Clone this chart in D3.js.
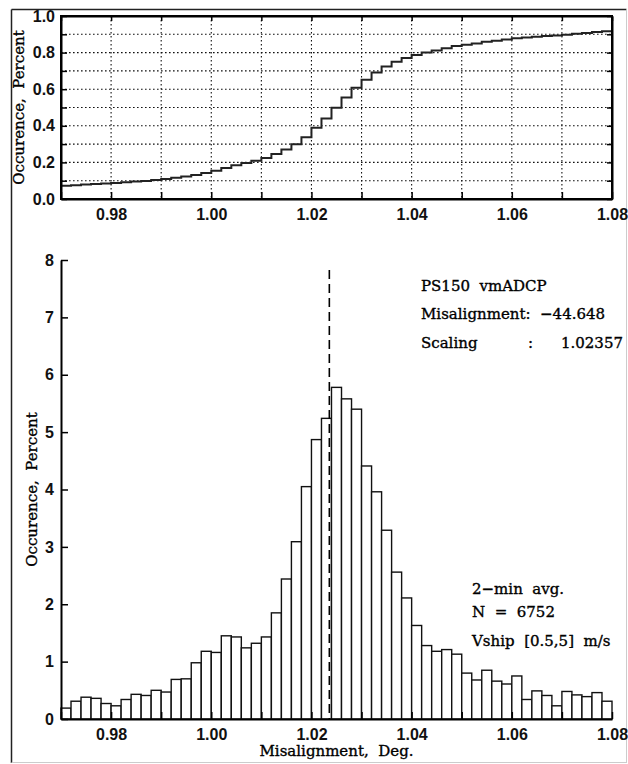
<!DOCTYPE html>
<html>
<head>
<meta charset="utf-8">
<script src="https://cdn.jsdelivr.net/npm/d3@7"></script>
<style>
  body { margin: 0; background: #fff; }
  svg text { white-space: pre; }
</style>
</head>
<body>
<script>
var width = 628;
var height = 764;

// histogram bins (left edges, deg) and occurrence (percent)
var binWidth = 0.002;
var binLeft = [0.970, 0.972, 0.974, 0.976, 0.978, 0.980, 0.982, 0.984, 0.986, 0.988,
               0.990, 0.992, 0.994, 0.996, 0.998, 1.000, 1.002, 1.004, 1.006, 1.008,
               1.010, 1.012, 1.014, 1.016, 1.018, 1.020, 1.022, 1.024, 1.026, 1.028,
               1.030, 1.032, 1.034, 1.036, 1.038, 1.040, 1.042, 1.044, 1.046, 1.048,
               1.050, 1.052, 1.054, 1.056, 1.058, 1.060, 1.062, 1.064, 1.066, 1.068,
               1.070, 1.072, 1.074, 1.076, 1.078];
var percent = [0.19, 0.31, 0.38, 0.36, 0.27, 0.23, 0.34, 0.43, 0.41, 0.50,
               0.47, 0.69, 0.70, 0.98, 1.18, 1.16, 1.45, 1.43, 1.24, 1.32,
               1.43, 1.85, 2.44, 3.09, 4.05, 4.87, 5.24, 5.78, 5.58, 5.40,
               4.41, 3.96, 3.29, 2.56, 2.11, 1.63, 1.28, 1.18, 1.21, 1.13,
               0.80, 0.68, 0.85, 0.66, 0.61, 0.75, 0.34, 0.49, 0.41, 0.23,
               0.48, 0.42, 0.39, 0.46, 0.31];
// cumulative occurrence (one step per bin)
var cumulative = [0.072, 0.075, 0.079, 0.082, 0.085, 0.087, 0.091, 0.095, 0.099, 0.104,
                  0.109, 0.116, 0.123, 0.131, 0.142, 0.155, 0.169, 0.184, 0.197, 0.209,
                  0.224, 0.246, 0.270, 0.299, 0.337, 0.389, 0.440, 0.498, 0.554, 0.608,
                  0.652, 0.691, 0.724, 0.750, 0.771, 0.787, 0.800, 0.812, 0.824, 0.836,
                  0.843, 0.850, 0.859, 0.865, 0.871, 0.879, 0.882, 0.887, 0.891, 0.894,
                  0.898, 0.903, 0.907, 0.912, 0.916];

var scaling = 1.02357;
var xLabelTicks = [0.98, 1.00, 1.02, 1.04, 1.06, 1.08];
var yTopLabelTicks = [0.0, 0.2, 0.4, 0.6, 0.8, 1.0];
var yBotTicks = [0, 1, 2, 3, 4, 5, 6, 7, 8];
var infoLines = ["PS150  vmADCP", "Misalignment:  \u221244.648"];
var statLines = ["2\u2212min  avg.", "N  =  6752", "Vship  [0.5,5]  m/s"];

var serif = "'DejaVu Serif', serif";
var sans = "'Liberation Sans', Arial, sans-serif";

var svg = d3.select("body").append("svg")
    .attr("width", width)
    .attr("height", height);

// outer frame
svg.append("line").attr("x1", 11.5).attr("y1", 9.5).attr("x2", 626.5).attr("y2", 9.5)
    .attr("stroke", "#222").attr("stroke-width", 1.5);
svg.append("line").attr("x1", 11.5).attr("y1", 9.5).attr("x2", 11.5).attr("y2", 763)
    .attr("stroke", "#222").attr("stroke-width", 1.5);
svg.append("line").attr("x1", 626.5).attr("y1", 9.5).attr("x2", 626.5).attr("y2", 763)
    .attr("stroke", "#ccc").attr("stroke-width", 1);
svg.append("line").attr("x1", 11.5).attr("y1", 762.5).attr("x2", 626.5).attr("y2", 762.5)
    .attr("stroke", "#ccc").attr("stroke-width", 1);

var x = d3.scaleLinear().domain([0.97, 1.08]).range([61, 612]);
var yTop = d3.scaleLinear().domain([0, 1]).range([199, 16]);
var yBot = d3.scaleLinear().domain([0, 8]).range([719, 260]);

var fmt2 = d3.format(".2f");
var fmt1 = d3.format(".1f");
function isLabel(list, v) {
    return list.some(function(t) { return Math.abs(t - v) < 1e-9; });
}

// ---------- upper panel: cumulative ----------
var topPanel = svg.append("g");

// dotted grid
topPanel.selectAll(".vgrid").data(x.ticks(11).slice(1, -1)).enter().append("line")
    .attr("x1", function(d) { return x(d); })
    .attr("x2", function(d) { return x(d); })
    .attr("y1", yTop(1)).attr("y2", yTop(0))
    .attr("stroke", "#111").attr("stroke-width", 1.1)
    .attr("stroke-dasharray", "1.6,2.4");
topPanel.selectAll(".hgrid").data(yTop.ticks(10).slice(1, -1)).enter().append("line")
    .attr("x1", x.range()[0]).attr("x2", x.range()[1])
    .attr("y1", function(d) { return yTop(d); })
    .attr("y2", function(d) { return yTop(d); })
    .attr("stroke", "#111").attr("stroke-width", 1.1)
    .attr("stroke-dasharray", "1.6,2.4");

// step curve
var stepPts = binLeft.map(function(b, i) { return [b, cumulative[i]]; });
stepPts.push([binLeft[binLeft.length - 1] + binWidth, cumulative[cumulative.length - 1]]);
var stepLine = d3.line()
    .x(function(d) { return x(d[0]); })
    .y(function(d) { return yTop(d[1]); })
    .curve(d3.curveStepAfter);
topPanel.append("path").datum(stepPts)
    .attr("d", stepLine)
    .attr("fill", "none")
    .attr("stroke", "#222")
    .attr("stroke-width", 2);

// axes
var topBottomAxis = d3.axisBottom(x).ticks(11).tickSizeInner(-7).tickSizeOuter(0).tickPadding(10)
    .tickFormat(function(d) { return isLabel(xLabelTicks, d) ? fmt2(d) : ""; });
var topTopAxis = d3.axisTop(x).ticks(11).tickSizeInner(-5).tickSizeOuter(0).tickFormat("");
var topLeftAxis = d3.axisLeft(yTop).ticks(10).tickSizeInner(-6).tickSizeOuter(0).tickPadding(6)
    .tickFormat(function(d) { return isLabel(yTopLabelTicks, d) ? fmt1(d) : ""; });
var topRightAxis = d3.axisRight(yTop).ticks(10).tickSizeInner(-5).tickSizeOuter(0).tickFormat("");

topPanel.append("g").attr("transform", "translate(0," + yTop(0) + ")").call(topBottomAxis);
topPanel.append("g").attr("transform", "translate(0," + yTop(1) + ")").call(topTopAxis);
topPanel.append("g").attr("transform", "translate(" + x.range()[0] + ",0)").call(topLeftAxis);
topPanel.append("g").attr("transform", "translate(" + x.range()[1] + ",0)").call(topRightAxis);

topPanel.append("rect")
    .attr("x", x.range()[0]).attr("y", yTop(1))
    .attr("width", x.range()[1] - x.range()[0])
    .attr("height", yTop(0) - yTop(1))
    .attr("fill", "none").attr("stroke", "#000").attr("stroke-width", 2);

topPanel.append("text")
    .attr("class", "serif")
    .attr("transform", "translate(24," + ((yTop(0) + yTop(1)) / 2) + ") rotate(-90)")
    .attr("text-anchor", "middle")
    .style("font-size", "15px")
    .text("Occurence,  Percent");

// ---------- lower panel: histogram ----------
var botPanel = svg.append("g");

botPanel.selectAll(".bar").data(percent).enter().append("rect")
    .attr("x", function(d, i) { return x(binLeft[i]); })
    .attr("y", function(d) { return yBot(d); })
    .attr("width", function(d, i) { return x(binLeft[i] + binWidth) - x(binLeft[i]); })
    .attr("height", function(d) { return yBot(0) - yBot(d); })
    .attr("fill", "#fff")
    .attr("stroke", "#111")
    .attr("stroke-width", 1.4);

var botLeftAxis = d3.axisLeft(yBot).tickValues(yBotTicks).tickSizeInner(-7).tickSizeOuter(0)
    .tickPadding(7).tickFormat(d3.format("d"));
var botBottomAxis = d3.axisBottom(x).ticks(11).tickSizeInner(-7).tickSizeOuter(0).tickPadding(10)
    .tickFormat(function(d) { return isLabel(xLabelTicks, d) ? fmt2(d) : ""; });

botPanel.append("g").attr("transform", "translate(" + x.range()[0] + ",0)").call(botLeftAxis);
botPanel.append("g").attr("transform", "translate(0," + yBot(0) + ")").call(botBottomAxis);

// dashed line at the scaling factor
botPanel.append("line")
    .attr("x1", x(scaling)).attr("x2", x(scaling))
    .attr("y1", 270).attr("y2", yBot(0))
    .attr("stroke", "#000").attr("stroke-width", 1.6)
    .attr("stroke-dasharray", "9,5");

botPanel.append("text")
    .attr("class", "serif")
    .attr("transform", "translate(37," + ((yBot(0) + yBot(8)) / 2) + ") rotate(-90)")
    .attr("text-anchor", "middle")
    .style("font-size", "15px")
    .text("Occurence,  Percent");

botPanel.append("text")
    .attr("class", "serif")
    .attr("x", (x.range()[0] + x.range()[1]) / 2).attr("y", 756)
    .attr("text-anchor", "middle")
    .style("font-size", "15px")
    .text("Misalignment,  Deg.");

// annotations
var info = botPanel.append("g").style("font-size", "15px");
info.selectAll("text").data(infoLines).enter().append("text")
    .attr("class", "serif")
    .attr("x", 421)
    .attr("y", function(d, i) { return 290.5 + i * 28.8; })
    .text(function(d) { return d; });
info.append("text").attr("class", "serif").attr("x", 421).attr("y", 348.3).text("Scaling");
info.append("text").attr("class", "serif").attr("x", 528).attr("y", 348.3).text(":");
info.append("text").attr("class", "serif").attr("x", 623).attr("y", 348.3)
    .attr("text-anchor", "end").text(d3.format(".5f")(scaling));

var stats = botPanel.append("g").style("font-size", "15px");
var statY = [594, 617, 646];
stats.selectAll("text").data(statLines).enter().append("text")
    .attr("class", "serif")
    .attr("x", 472)
    .attr("y", function(d, i) { return statY[i]; })
    .text(function(d) { return d; });

// text styling
svg.selectAll("text.serif")
    .style("font-family", serif)
    .attr("fill", "#000")
    .attr("stroke", "#000")
    .attr("stroke-width", 0.35);
svg.selectAll(".tick text")
    .style("font-family", sans)
    .style("font-size", "16px")
    .style("font-weight", "bold")
    .attr("fill", "#111");
svg.selectAll(".tick line").attr("stroke", "#000").attr("stroke-width", 1.5);
svg.selectAll(".domain").attr("stroke", "#000").attr("stroke-width", 2);
</script>
</body>
</html>
